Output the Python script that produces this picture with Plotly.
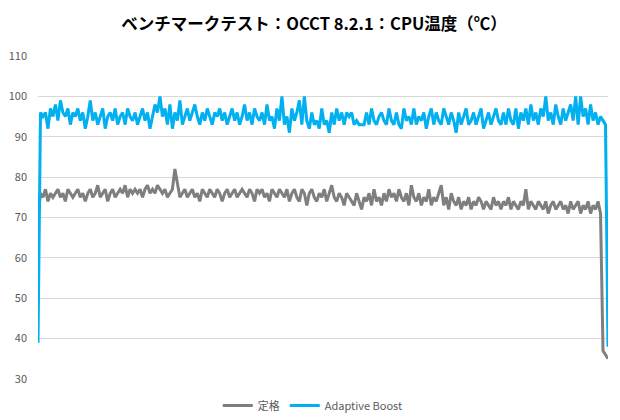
import plotly.graph_objects as go

title_text = "ベンチマークテスト：OCCT 8.2.1：CPU温度（℃）"
series_names = ["定格", "Adaptive Boost"]
y_ticks = [30, 40, 50, 60, 70, 80, 90, 100, 110]

teikaku = [
    70, 76, 75, 77, 74, 76, 75, 76, 77, 75,
    76, 74, 77, 76, 75, 76, 77, 75, 76, 74,
    76, 77, 75, 76, 78, 75, 76, 77, 74, 76,
    77, 75, 76, 77, 76, 78, 75, 77, 76, 77,
    76, 77, 75, 77, 78, 76, 77, 76, 78, 77,
    76, 77, 75, 76, 77, 82, 78, 75, 76, 77,
    75, 76, 77, 75, 76, 74, 77, 76, 75, 77,
    76, 75, 77, 76, 74, 76, 77, 75, 76, 77,
    75, 76, 77, 76, 75, 77, 76, 74, 77, 76,
    77, 75, 76, 74, 77, 76, 75, 77, 76, 75,
    77, 74, 76, 77, 75, 74, 77, 76, 73, 76,
    77, 75, 74, 76, 75, 77, 74, 76, 78, 75,
    74, 76, 75, 73, 76, 75, 74, 73, 76, 74,
    72, 75, 74, 76, 73, 77, 74, 75, 73, 76,
    74, 77, 75, 76, 74, 77, 75, 74, 76, 73,
    78, 75, 74, 76, 73, 75, 74, 77, 73, 75,
    74, 76, 78, 73, 75, 72, 76, 74, 73, 75,
    72, 74, 73, 75, 72, 74, 73, 75, 74, 72,
    74, 73, 72, 75, 73, 74, 72, 74, 73, 75,
    72, 74, 73, 72, 74, 73, 77, 72, 74, 73,
    72, 74, 73, 72, 74, 71, 73, 74, 72, 73,
    74, 72, 73, 71, 74, 72, 73, 74, 71, 73,
    72, 74, 71, 73, 72, 74, 71, 37, 36, 35,
]

adaptive_boost = [
    39, 96, 95, 96, 92, 97, 95, 98, 94, 99,
    96, 95, 97, 93, 96, 95, 97, 94, 96, 92,
    95, 99, 94, 96, 93, 95, 97, 92, 95, 96,
    94, 97, 93, 95, 96, 93, 97, 95, 94, 96,
    93, 95, 97, 94, 96, 92, 95, 98, 96, 100,
    95, 97, 93, 98, 92, 96, 94, 99, 93, 95,
    97, 94, 96, 98, 95, 93, 96, 94, 97, 95,
    93, 96, 95, 97, 94, 96, 93, 95, 97, 94,
    96, 93, 95, 98, 94, 96, 93, 97, 95, 94,
    96, 93, 98, 94, 95, 92, 97, 94, 100, 93,
    95, 91, 97, 94, 96, 99, 93, 100, 94, 92,
    96, 93, 94, 92, 97, 93, 94, 91, 96, 93,
    97, 94, 96, 93, 96, 95, 96, 93, 94, 93,
    93, 93, 96, 93, 97, 94, 93, 95, 96, 94,
    93, 97, 94, 93, 96, 93, 92, 97, 94, 95,
    93, 97, 93, 95, 94, 96, 92, 95, 97, 93,
    96, 94, 93, 97, 95, 93, 96, 94, 91, 96,
    93, 95, 97, 93, 94, 96, 93, 95, 97, 92,
    94, 96, 93, 95, 97, 94, 93, 96, 93, 97,
    94, 93, 97, 92, 96, 94, 97, 93, 98, 94,
    96, 93, 97, 95, 100, 94, 96, 93, 98, 95,
    93, 97, 94, 96, 98, 94, 100, 93, 100, 95,
    97, 93, 98, 94, 96, 93, 95, 94, 93, 38,
]

x_idx = list(range(len(adaptive_boost)))

fig = go.Figure()
fig.add_trace(go.Scatter(x=x_idx, y=teikaku, mode="lines", name=series_names[0],
                         line=dict(color="#7F7F7F", width=3)))
fig.add_trace(go.Scatter(x=x_idx, y=adaptive_boost, mode="lines", name=series_names[1],
                         line=dict(color="#00B0F0", width=3)))

font_family = "Noto Sans CJK JP, Noto Sans, sans-serif"
fig.update_layout(
    width=612, height=412,
    paper_bgcolor="white", plot_bgcolor="white",
    margin=dict(l=30, r=12, t=48, b=41),
    font=dict(family=font_family, color="#595959", size=11),
    title=dict(text="<b>" + title_text + "</b>", x=0.5, xanchor="center",
               y=0.961, yanchor="middle", font=dict(size=16.5, color="#000000")),
    showlegend=True,
    legend=dict(orientation="h", xref="container", yref="container",
                x=0.498, xanchor="center", y=0.0, yanchor="bottom",
                font=dict(size=11, color="#595959"),
                bgcolor="rgba(0,0,0,0)"),
    xaxis=dict(range=[0, len(x_idx) - 1], showticklabels=False, showgrid=False,
               zeroline=False, showline=False, ticks="", automargin=False),
    yaxis=dict(range=[30, 110], tickvals=y_ticks, showgrid=True, gridcolor="#D9D9D9",
               gridwidth=1, zeroline=False, showline=False, ticks="",
               ticklabelstandoff=10, automargin=False,
               tickfont=dict(size=11, color="#595959")),
)

fig.write_html("out.html")
